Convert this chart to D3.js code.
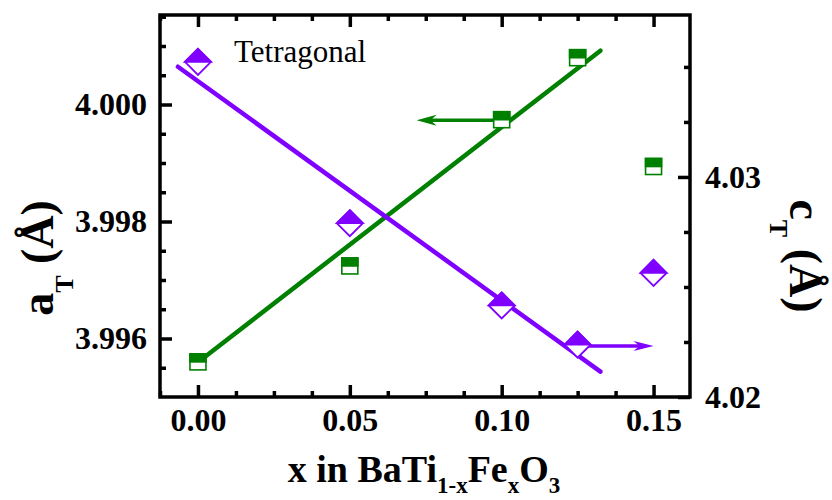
<!DOCTYPE html>
<html>
<head>
<meta charset="utf-8">
<script src="https://cdn.jsdelivr.net/npm/d3@7"></script>
<style>
  html, body { margin: 0; padding: 0; background: #fff; }
  svg { display: block; }
</style>
</head>
<body>
<svg id="chart" width="832" height="500"></svg>
<script>
// Fe content x in BaTi(1-x)Fe(x)O3
const xValues = [0, 0.05, 0.10, 0.125, 0.15];
// tetragonal lattice parameter a_T (Å), left axis
const aValues = [3.99560, 3.99724, 3.99974, 4.00080, 3.99894];
// tetragonal lattice parameter c_T (Å), right axis
const cValues = [4.03523, 4.02790, 4.02416, 4.02238, 4.02564];

// linear fit lines (end points)
const aFitX = [-0.0016, 0.1325];
const aFitY = [3.99553, 4.00092];
const cFitX = [-0.0066, 0.1325];
const cFitY = [4.03501, 4.02115];

// axis-pointer arrows
const aArrowX = [0.10, 0.072];
const aArrowY = 3.99973;
const cArrowX = [0.125, 0.15];
const cArrowY = 4.02232;

// ticks
const xMajor = [0, 0.05, 0.10, 0.15];
const xTickLabels = ["0.00", "0.05", "0.10", "0.15"];
const xMinor = [-0.0125, 0.0125, 0.025, 0.0375, 0.0625, 0.075, 0.0875, 0.1125, 0.125, 0.1375];
const aMajor = [3.996, 3.998, 4.000];
const aTickLabels = ["3.996", "3.998", "4.000"];
const aMinor = [3.9955, 3.9965, 3.997, 3.9975, 3.9985, 3.999, 3.9995, 4.0005, 4.001, 4.0015];
const cMajor = [4.02, 4.03];
const cTickLabels = ["4.02", "4.03"];
const cMinor = [4.0225, 4.025, 4.0275, 4.0325, 4.035];

const green = "#008000";
const purple = "#8000ff";
const serif = '"Liberation Serif"';

const svg = d3.select("#chart");
const L = 160, R = 690, T = 15, B = 397;

const x = d3.scaleLinear().domain([-0.0125, 0.162]).range([L, R]);
const yA = d3.scaleLinear().domain([3.995, 4.00153]).range([B, T]);
const yC = d3.scaleLinear().domain([4.02, 4.03736]).range([B, T]);

function styleAxis(g) {
  g.attr("font-family", null).attr("font-size", null);
  g.select(".domain").remove();
  g.selectAll(".tick line").attr("stroke", "#000").attr("stroke-width", 3.5);
  g.selectAll(".tick text")
    .attr("fill", "#000")
    .style("font-family", serif)
    .style("font-weight", "bold")
    .style("font-size", "32px");
}

// bottom axis
svg.append("g").attr("transform", `translate(0,${B})`)
  .call(d3.axisBottom(x).tickValues(xMajor).tickSize(-12).tickPadding(11)
    .tickFormat((d, i) => xTickLabels[i]))
  .call(styleAxis);
svg.append("g").attr("transform", `translate(0,${B})`)
  .call(d3.axisBottom(x).tickValues(xMinor).tickSize(-6).tickFormat(""))
  .call(styleAxis);
// top axis (mirror ticks)
svg.append("g").attr("transform", `translate(0,${T})`)
  .call(d3.axisTop(x).tickValues(xMajor).tickSize(-12).tickFormat(""))
  .call(styleAxis);
svg.append("g").attr("transform", `translate(0,${T})`)
  .call(d3.axisTop(x).tickValues(xMinor).tickSize(-6).tickFormat(""))
  .call(styleAxis);
// left axis (a_T)
svg.append("g").attr("transform", `translate(${L},0)`)
  .call(d3.axisLeft(yA).tickValues(aMajor).tickSize(-12).tickPadding(13)
    .tickFormat((d, i) => aTickLabels[i]))
  .call(styleAxis);
svg.append("g").attr("transform", `translate(${L},0)`)
  .call(d3.axisLeft(yA).tickValues(aMinor).tickSize(-6).tickFormat(""))
  .call(styleAxis);
// right axis (c_T)
svg.append("g").attr("transform", `translate(${R},0)`)
  .call(d3.axisRight(yC).tickValues(cMajor).tickSize(-12).tickPadding(15)
    .tickFormat((d, i) => cTickLabels[i]))
  .call(styleAxis);
svg.append("g").attr("transform", `translate(${R},0)`)
  .call(d3.axisRight(yC).tickValues(cMinor).tickSize(-6).tickFormat(""))
  .call(styleAxis);

// frame
svg.append("rect")
  .attr("x", L).attr("y", T).attr("width", R - L).attr("height", B - T)
  .attr("fill", "none").attr("stroke", "#000").attr("stroke-width", 3.5);

// fit lines
const line = d3.line();
svg.append("path")
  .attr("d", line(aFitX.map((v, i) => [x(v), yA(aFitY[i])])))
  .attr("stroke", green).attr("stroke-width", 4.5).attr("fill", "none")
  .attr("stroke-linecap", "round");
svg.append("path")
  .attr("d", line(cFitX.map((v, i) => [x(v), yC(cFitY[i])])))
  .attr("stroke", purple).attr("stroke-width", 4.5).attr("fill", "none")
  .attr("stroke-linecap", "round");

// arrows
function arrow(x0, x1, yy, color, headLen, headHalf) {
  const dir = Math.sign(x1 - x0);
  svg.append("line")
    .attr("x1", x0).attr("x2", x1 - dir * headLen * 0.6)
    .attr("y1", yy).attr("y2", yy)
    .attr("stroke", color).attr("stroke-width", 3.5);
  svg.append("path")
    .attr("d", `M${x1},${yy} L${x1 - dir * headLen},${yy - headHalf} L${x1 - dir * headLen * 0.7},${yy} L${x1 - dir * headLen},${yy + headHalf} Z`)
    .attr("fill", color);
}
arrow(x(aArrowX[0]), x(aArrowX[1]), yA(aArrowY), green, 20, 5.5);
arrow(x(cArrowX[0]), x(cArrowX[1]), yC(cArrowY), purple, 20, 5);

// a_T markers: half-filled squares
const sq = 16;
const aG = svg.append("g");
xValues.forEach((v, i) => {
  const cx = x(v), cy = yA(aValues[i]);
  aG.append("rect").attr("x", cx - sq / 2).attr("y", cy - sq / 2)
    .attr("width", sq).attr("height", sq)
    .attr("fill", "#fff").attr("stroke", green).attr("stroke-width", 1.6);
  aG.append("rect").attr("x", cx - sq / 2).attr("y", cy - sq / 2)
    .attr("width", sq).attr("height", sq / 2)
    .attr("fill", green).attr("stroke", green).attr("stroke-width", 1.6);
});

// c_T markers: half-filled diamonds
const dh = 13;
const cG = svg.append("g");
xValues.forEach((v, i) => {
  const cx = x(v), cy = yC(cValues[i]);
  cG.append("path")
    .attr("d", `M${cx},${cy - dh} L${cx + dh},${cy} L${cx},${cy + dh} L${cx - dh},${cy} Z`)
    .attr("fill", "#fff").attr("stroke", purple).attr("stroke-width", 1.8)
    .attr("stroke-linejoin", "miter");
  cG.append("path")
    .attr("d", `M${cx},${cy - dh} L${cx + dh},${cy} L${cx - dh},${cy} Z`)
    .attr("fill", purple).attr("stroke", purple).attr("stroke-width", 1.8);
});

// phase label
svg.append("text")
  .attr("x", 234).attr("y", 62)
  .style("font-family", serif).style("font-size", "31px")
  .attr("fill", "#000")
  .text("Tetragonal");

// x axis title
const xt = svg.append("text")
  .attr("x", 424).attr("y", 482)
  .attr("text-anchor", "middle")
  .style("font-family", serif).style("font-size", "38px").style("font-weight", "bold");
xt.append("tspan").text("x in BaTi");
xt.append("tspan").attr("dy", 11).style("font-size", "23px").text("1-x");
xt.append("tspan").attr("dy", -11).text("Fe");
xt.append("tspan").attr("dy", 11).style("font-size", "23px").text("x");
xt.append("tspan").attr("dy", -11).text("O");
xt.append("tspan").attr("dy", 11).style("font-size", "23px").text("3");

// left axis title
const lt = svg.append("text")
  .attr("transform", "translate(53,258) rotate(-90)")
  .attr("text-anchor", "middle")
  .style("font-family", serif).style("font-size", "46px").style("font-weight", "bold");
lt.append("tspan").text("a");
lt.append("tspan").attr("dy", 20).style("font-size", "26px").text("T");
lt.append("tspan").attr("dy", -20).text(" (Å)");

// right axis title
const rt = svg.append("text")
  .attr("transform", "translate(790,256) rotate(90)")
  .attr("text-anchor", "middle")
  .style("font-family", serif).style("font-size", "46px").style("font-weight", "bold");
rt.append("tspan").text("c");
rt.append("tspan").attr("dy", 20).style("font-size", "26px").text("T");
rt.append("tspan").attr("dy", -20).text(" (Å)");
</script>
</body>
</html>
